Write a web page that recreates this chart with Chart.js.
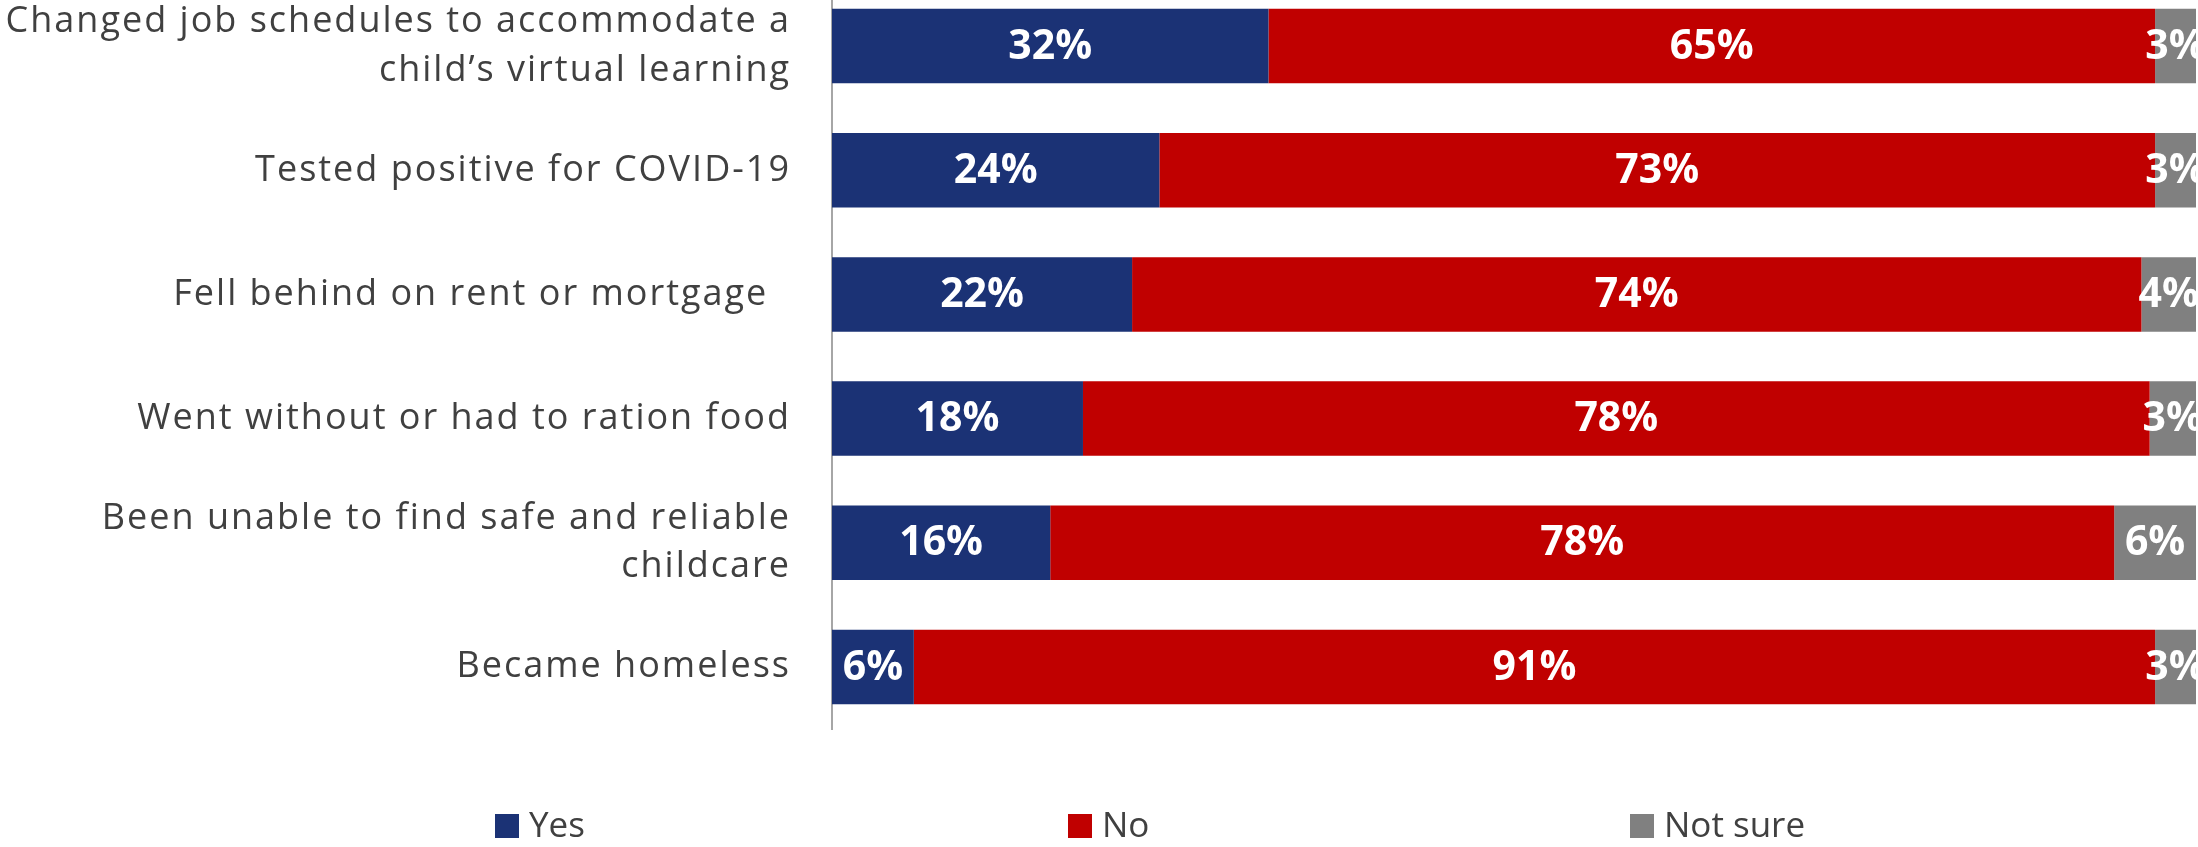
<!DOCTYPE html>
<html>
<head>
<meta charset="utf-8">
<script src="https://cdn.jsdelivr.net/npm/chart.js@4.4.1/dist/chart.umd.min.js"></script>
<style>
    html, body { margin: 0; padding: 0; background: #ffffff; overflow: hidden; }
    #wrap { position: absolute; left: 0; top: -16px; width: 2198px; height: 863px; }
</style>
</head>
<body>
<div id="wrap"><canvas id="surveyChart"></canvas></div>
<script>
// data
const categories = [
    ['Changed job schedules to accommodate a', 'child\u2019s virtual learning'],
    'Tested positive for COVID-19',
    'Fell behind on rent or mortgage  ',
    'Went without or had to ration food',
    ['Been unable to find safe and reliable', 'childcare'],
    'Became homeless'
];
// bar lengths as measured (labels show them rounded)
const yesValues = [32, 24, 22, 18.4, 16, 6];
const noValues = [65, 73, 74, 78.2, 78, 91];
const notSureValues = [3, 3, 4, 3.4, 6, 3];
const seriesNames = ['Yes', 'No', 'Not sure'];

const colors = ['#1B3275', '#C00000', '#808080'];

// wider tracking for the category labels, like the original
const labelSpacing = {
    id: 'labelSpacing',
    beforeDraw(chart) {
        chart.ctx.letterSpacing = '2px';
    },
    beforeDatasetsDraw(chart) {
        chart.ctx.letterSpacing = '0px';
    }
};

// white bold value inside each bar segment
const barLabels = {
    id: 'barLabels',
    afterDatasetsDraw(chart) {
        const ctx = chart.ctx;
        ctx.save();
        ctx.fillStyle = '#ffffff';
        ctx.font = 'bold 41px "Open Sans"';
        ctx.textAlign = 'center';
        ctx.textBaseline = 'middle';
        chart.data.datasets.forEach((ds, i) => {
            chart.getDatasetMeta(i).data.forEach((bar, j) => {
                const x = (bar.x + bar.base) / 2;
                ctx.fillText(Math.round(ds.data[j]) + '%', x, bar.y + 1);
            });
        });
        ctx.restore();
    }
};

// legend spread across the bottom like the original
const legendStarts = [495, 1068, 1630];
const spreadLegend = {
    id: 'spreadLegend',
    afterDraw(chart) {
        const ctx = chart.ctx;
        const y = 842;
        ctx.save();
        ctx.letterSpacing = '0px';
        ctx.font = '35px "Open Sans"';
        ctx.textBaseline = 'middle';
        ctx.textAlign = 'left';
        chart.data.datasets.forEach((ds, i) => {
            const x = legendStarts[i];
            ctx.fillStyle = ds.backgroundColor;
            ctx.fillRect(x, y - 12, 24, 24);
            ctx.fillStyle = '#404040';
            ctx.fillText(ds.label, x + 34, y + 1);
        });
        ctx.restore();
    }
};

const ctx = document.getElementById('surveyChart').getContext('2d');
new Chart(ctx, {
    type: 'bar',
    data: {
        labels: categories,
        datasets: [
            { label: seriesNames[0], data: yesValues, backgroundColor: colors[0] },
            { label: seriesNames[1], data: noValues, backgroundColor: colors[1] },
            { label: seriesNames[2], data: notSureValues, backgroundColor: colors[2] }
        ]
    },
    options: {
        indexAxis: 'y',
        responsive: true,
        maintainAspectRatio: false,
        animation: false,
        datasets: {
            bar: { categoryPercentage: 1, barPercentage: 0.6 }
        },
        layout: {
            padding: { left: 0, right: 2, top: 0, bottom: 118 }
        },
        scales: {
            x: {
                stacked: true,
                display: false,
                min: 0,
                max: 100
            },
            y: {
                stacked: true,
                grid: { display: false, drawTicks: false },
                border: { display: true, color: '#A6A6A6', width: 2 },
                ticks: {
                    color: '#404040',
                    padding: 41,
                    font: { family: 'Open Sans', size: 36, lineHeight: 1.36 }
                },
                afterFit(scale) {
                    scale.width = 832;
                    scale.paddingTop = 0;
                    scale.paddingBottom = 0;
                }
            }
        },
        plugins: {
            legend: { display: false },
            tooltip: { enabled: false }
        }
    },
    plugins: [labelSpacing, barLabels, spreadLegend]
});
</script>
</body>
</html>
